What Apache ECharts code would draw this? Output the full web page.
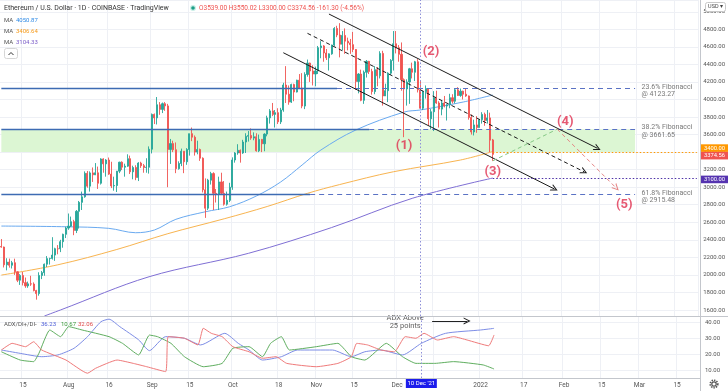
<!DOCTYPE html>
<html>
<head>
<meta charset="utf-8">
<title>Ethereum / U.S. Dollar</title>
<script src="https://cdn.jsdelivr.net/npm/echarts@6.0.0/dist/echarts.min.js"></script>
<style>
html,body{margin:0;padding:0;background:#ffffff;}
#chart{width:728px;height:391px;}
</style>
</head>
<body>
<div id="chart"></div>
<script>
// ================= DATA =================
// daily candles [open, high, low, close], one row per day starting 2021-07-07
const ohlcJul = [
[2324,2409,2310,2318],[2318,2323,2085,2115],[2115,2190,2052,2146],[2146,2186,2083,2110],
[2110,2160,2073,2139],[2139,2185,2000,2036],[2036,2042,1918,1940],[1940,2009,1886,1994],
[1994,2033,1880,1912],[1912,1970,1853,1875],[1875,1924,1853,1898],[1898,1990,1875,1896],
[1896,1915,1812,1822],[1822,1830,1718,1787],[1787,2030,1763,1994],[1994,2045,1952,2026],
[2026,2130,1990,2122],[2122,2215,2090,2186],[2186,2195,2118,2188],[2188,2430,2175,2226],
[2226,2310,2160,2299],[2299,2340,2235,2297],[2297,2400,2260,2379],[2379,2470,2310,2463],
[2463,2550,2420,2534]
];
const ohlcAug = [
[2534,2700,2514,2556],[2556,2665,2545,2607],[2607,2628,2453,2507],[2507,2740,2477,2725],
[2725,2843,2528,2827],[2827,2950,2740,2890],[2890,3180,2880,3158],[3158,3185,2994,3012],
[3012,3180,2950,3163],[3163,3225,3060,3141],[3141,3275,3138,3164],[3164,3235,2980,3045],
[3045,3330,3030,3322],[3322,3330,3165,3266],[3266,3320,3120,3310],[3310,3338,3140,3149],
[3149,3290,2990,3014],[3014,3120,2960,3019],[3019,3185,2945,3183],[3183,3290,3160,3285],
[3285,3295,3195,3228],[3228,3268,3120,3240],[3240,3375,3232,3325],[3325,3360,3150,3175],
[3175,3245,3090,3224],[3224,3250,3080,3110],[3110,3285,3070,3275],[3275,3290,3220,3245],
[3245,3265,3165,3224],[3224,3330,3165,3227],[3227,3465,3155,3433]
];
const ohlcSep = [
[3433,3840,3385,3830],[3830,3840,3720,3790],[3790,4028,3715,3940],[3940,3970,3825,3887],
[3887,3965,3845,3952],[3952,3970,3870,3927],[3927,3950,3000,3430],[3430,3550,3265,3497],
[3497,3530,3400,3427],[3427,3510,3160,3211],[3211,3295,3200,3270],[3270,3440,3240,3410],
[3410,3410,3160,3290],[3290,3445,3255,3430],[3430,3610,3360,3610],[3610,3680,3525,3570],
[3570,3590,3360,3400],[3400,3530,3375,3430],[3430,3440,3300,3330],[3330,3340,2940,2970],
[2970,3100,2650,2760],[2760,3095,2740,3080],[3080,3175,3030,3155],[3155,3170,2740,2930],
[2930,2980,2825,2923],[2923,3120,2740,3060],[3060,3165,2920,2930],[2930,3070,2790,2806],
[2806,2950,2790,2850],[2850,3050,2830,3000]
];
const ohlcOct = [
[3000,3340,2970,3310],[3310,3400,3280,3390],[3390,3490,3370,3420],[3420,3430,3280,3390],
[3390,3540,3380,3515],[3515,3615,3390,3580],[3580,3640,3520,3590],[3590,3670,3540,3560],
[3560,3625,3535,3575],[3575,3615,3405,3415],[3415,3600,3400,3545],[3545,3550,3400,3495],
[3495,3615,3410,3605],[3605,3815,3580,3790],[3790,3890,3725,3870],[3870,3960,3810,3830],
[3830,3880,3680,3850],[3850,3900,3720,3745],[3745,3905,3720,3880],[3880,4190,3860,4165],
[4165,4380,3960,4060],[4060,4160,3940,3970],[3970,4180,3960,4170],[4170,4180,3980,4085],
[4085,4225,4080,4220],[4220,4290,4120,4130],[4130,4300,3900,3925],[3925,4310,3890,4285],
[4285,4455,4260,4415],[4415,4420,4200,4325],[4325,4390,4160,4290]
];
const ohlcNov = [
[4290,4375,4150,4325],[4325,4610,4290,4590],[4590,4665,4470,4610],[4610,4620,4430,4530],
[4530,4575,4450,4475],[4475,4525,4330,4520],[4520,4625,4510,4620],[4620,4825,4610,4810],
[4810,4840,4710,4735],[4735,4870,4480,4630],[4630,4780,4560,4730],[4730,4810,4520,4665],
[4665,4705,4560,4645],[4645,4690,4520,4625],[4625,4770,4540,4570],[4570,4575,4110,4205],
[4205,4300,4070,4290],[4290,4340,3980,3990],[3990,4330,3950,4310],[4310,4450,4250,4435],
[4435,4440,4290,4320],[4320,4350,4055,4090],[4090,4380,4060,4340],[4340,4370,4150,4270],
[4270,4550,4240,4525],[4525,4555,3930,4040],[4040,4180,4040,4100],[4100,4310,3970,4300],
[4300,4460,4280,4445],[4445,4780,4330,4635]
];
const ohlcDec = [
[4635,4780,4525,4590],[4590,4620,4430,4515],[4515,4650,4100,4225],[4225,4240,3570,4120],
[4120,4230,3930,4200],[4200,4360,3950,4350],[4350,4420,4240,4310],[4310,4440,4210,4430],
[4430,4460,4080,4110],[4110,4220,3890,3900],[3900,4100,3880,4090],[4090,4160,4010,4125],
[4125,4130,3700,3780],[3780,3890,3660,3860],[3860,4095,3640,4020],[4020,4100,3950,3960],
[3960,3980,3680,3890],[3890,3990,3820,3960],[3960,4040,3910,3925],[3925,3945,3760,3940],
[3940,4065,3900,4020],[4020,4060,3955,3980],[3980,4130,3955,4110],[4110,4140,4040,4045],
[4045,4125,4030,4095],[4095,4100,4000,4060],[4060,4125,4030,4040],[4040,4045,3770,3795],
[3795,3830,3600,3630],[3630,3770,3590,3710],[3710,3810,3620,3680]
];
const ohlcJan = [
[3680,3770,3680,3770],[3770,3855,3725,3830],[3830,3850,3700,3760],[3760,3880,3725,3790],
[3790,3850,3400,3535.86],[3539.00,3550.02,3300.00,3374.56]
];

// moving averages [date, value]
const maBlue = [
['2021-07-07',2557],['2021-07-31',2549],['2021-08-16',2531],['2021-08-26',2481],['2021-09-02',2512],
['2021-09-10',2634],['2021-09-21',2720],['2021-09-30',2777],['2021-10-10',2900],['2021-10-19',3059],
['2021-10-27',3253],['2021-11-03',3424],['2021-11-16',3652],['2021-12-04',3857],['2021-12-10',3880],
['2021-12-26',3971],['2022-01-06',4050.87]
];
const maOrange = [
['2021-07-07',1998],['2021-07-28',2115],['2021-08-19',2290],['2021-09-07',2470],['2021-09-28',2640],
['2021-10-14',2780],['2021-10-29',2930],['2021-11-10',3030],['2021-11-30',3176],['2021-12-25',3310],
['2022-01-06',3406.64]
];
const maPurple = [
['2021-07-23',1531],['2021-07-29',1600],['2021-08-31',1979],['2021-10-07',2246],['2021-11-07',2540],
['2021-12-07',2873],['2022-01-06',3104.33]
];

// ADX / DI+ / DI-
const adxLine = [
['2021-07-07',22.6],['2021-07-14',20.5],['2021-07-22',18.4],['2021-07-28',19.5],['2021-08-03',23.7],
['2021-08-08',31.0],['2021-08-13',40.4],['2021-08-16',42.0],['2021-08-20',37.3],['2021-08-27',29.0],
['2021-08-31',22.2],['2021-09-06',31.0],['2021-09-13',30.0],['2021-09-19',25.8],['2021-09-28',33.1],
['2021-10-03',26.8],['2021-10-07',22.6],['2021-10-12',16.3],['2021-10-19',18.4],['2021-10-25',22.6],
['2021-11-07',22.6],['2021-11-14',18.4],['2021-11-19',21.5],['2021-11-25',22.6],['2021-12-03',19.5],
['2021-12-10',26.8],['2021-12-19',33.1],['2022-01-01',35.2],['2022-01-06',36.23]
];
const diPlus = [
['2021-07-07',21.5],['2021-07-14',16.3],['2021-07-19',15.3],['2021-07-21',20.7],['2021-07-25',35.2],
['2021-07-29',31.0],['2021-08-01',37.3],['2021-08-06',35.2],['2021-08-16',31.0],['2021-08-21',26.8],
['2021-08-27',19.5],['2021-08-31',32.0],['2021-09-03',31.0],['2021-09-08',26.8],['2021-09-13',18.4],
['2021-09-20',12.1],['2021-09-27',14.2],['2021-10-01',23.7],['2021-10-07',24.7],['2021-10-12',18.4],
['2021-10-15',26.8],['2021-10-19',31.0],['2021-10-22',22.6],['2021-11-01',24.7],['2021-11-09',26.8],
['2021-11-14',18.4],['2021-11-19',16.3],['2021-11-27',26.8],['2021-12-03',18.4],['2021-12-08',14.2],
['2021-12-15',14.2],['2021-12-22',15.3],['2022-01-02',13.2],['2022-01-06',10.67]
];
const diMinus = [
['2021-07-07',22.6],['2021-07-11',26.8],['2021-07-16',24.7],['2021-07-19',27.8],['2021-07-22',22.6],
['2021-07-31',16.3],['2021-08-08',8.0],['2021-08-11',11.1],['2021-08-19',16.3],['2021-08-25',14.2],
['2021-08-30',12.1],['2021-09-06',9.0],['2021-09-07',31.0],['2021-09-13',30.0],['2021-09-18',25.8],
['2021-09-20',36.3],['2021-09-23',33.1],['2021-09-27',31.0],['2021-10-01',24.7],['2021-10-07',21.5],
['2021-10-12',17.4],['2021-10-17',18.4],['2021-10-21',14.2],['2021-11-01',12.1],['2021-11-09',14.2],
['2021-11-14',18.4],['2021-11-16',26.8],['2021-11-20',25.8],['2021-11-25',22.6],['2021-11-30',21.5],
['2021-12-04',31.0],['2021-12-08',30.0],['2021-12-11',33.1],['2021-12-16',28.9],['2021-12-22',31.0],
['2021-12-27',28.9],['2022-01-04',25.3],['2022-01-06',32.06]
];

// drawings
const fibNames = ['23.6%','38.2%','61.8%'];
const fibLevels = [4123.27, 3661.65, 2915.48];
const fibSolidEnd = ['2021-11-09','2021-11-21','2021-10-30'];
const fibEnd = '2022-02-28';
const zoneLow = 3400, zoneHigh = 3661.65;
const channelUpper = [['2021-11-06',4974],['2022-02-14',3443]];
const channelLower = [['2021-10-20',4533],['2022-01-29',2979]];
const channelMid = [['2021-10-29',4754],['2022-02-09',3176]];
const projUp = [['2022-01-06',3300],['2022-01-30',3661.65]];
const projDown = [['2022-01-30',3661.65],['2022-02-21',2990]];
const keyLevels = [3400, 3100];
const waveNames = ['(1)','(2)','(3)','(4)','(5)'];
const waveDates = ['2021-12-04','2021-12-14','2022-01-06','2022-02-02','2022-02-24'];
const wavePrices = [3469, 4541, 3173, 3743, 2797];
const crossDate = '2021-12-10';
const adxNoteDate = '2021-12-04', adxNoteValue = 40;
const adxArrow = [['2021-12-14',40.9],['2021-12-27',40.9]];

// time axis tick labels
const tickDates = ['2021-07-15','2021-08-01','2021-08-16','2021-09-01','2021-09-15','2021-10-01','2021-10-18',
  '2021-11-01','2021-11-15','2021-12-01','2021-12-15','2022-01-01','2022-01-17','2022-02-01','2022-02-15','2022-03-01','2022-03-15'];
const tickLabels = ['15','Aug','16','Sep','15','Oct','18','Nov','15','Dec','','2022','17','Feb','15','Mar','15'];

// ================= BUILD =================
const FONT = 'Roboto, "Liberation Sans", sans-serif';
const cats = [];
(function () {
  const t0 = Date.UTC(2021, 6, 7);
  for (let i = 0; i < 260; i++) cats.push(new Date(t0 + i * 86400000).toISOString().slice(0, 10));
})();
const ohlc = [].concat(ohlcJul, ohlcAug, ohlcSep, ohlcOct, ohlcNov, ohlcDec, ohlcJan);
const candles = ohlc.map(r => [r[0], r[3], r[2], r[1]]);
const last = ohlc[ohlc.length - 1], prevClose = ohlc[ohlc.length - 2][3];
const chg = last[3] - prevClose, pct = chg / prevClose * 100;

const tickMap = {};
tickDates.forEach((d, i) => tickMap[d] = tickLabels[i]);
const isTick = (idx, val) => Object.prototype.hasOwnProperty.call(tickMap, val);

const ARROW = 'path://M0,10 L5,0 L10,10 L8.4,10 L5,3.2 L1.6,10 Z';
function seg(a, b, style, arrow) {
  const end = {coord: b};
  if (arrow) { end.symbol = ARROW; end.symbolSize = 7; }
  return [{coord: a, lineStyle: style}, end];
}

const markLines = [];
fibLevels.forEach((lv, k) => {
  markLines.push(seg([cats[0], lv], [fibSolidEnd[k], lv], {type: 'solid', color: '#3d6bb3', width: 1.4}));
  markLines.push(seg([fibSolidEnd[k], lv], [fibEnd, lv], {type: [5, 4], color: '#5a72c4', width: 1}));
});
const blackSolid = {type: 'solid', color: '#1c1c1c', width: 1};
markLines.push(seg(channelUpper[0], channelUpper[1], blackSolid, true));
markLines.push(seg(channelLower[0], channelLower[1], blackSolid, true));
markLines.push(seg(channelMid[0], channelMid[1], {type: [4, 3], color: '#1c1c1c', width: 1}, true));
markLines.push(seg(projUp[0], projUp[1], {type: [4, 3], color: '#86c986', width: 1}));
markLines.push(seg(projDown[0], projDown[1], {type: [4, 3], color: '#e58585', width: 1}, true));
markLines.push(seg([cats[ohlc.length - 1], keyLevels[0]], [cats[cats.length - 1], keyLevels[0]], {type: [1.5, 2], color: '#ff9800', width: 1}));
markLines.push(seg([cats[ohlc.length - 1], keyLevels[1]], [cats[cats.length - 1], keyLevels[1]], {type: [1.5, 2], color: '#4b2fa6', width: 1.2}));
markLines.push({xAxis: crossDate, lineStyle: {type: [1.5, 2], color: '#8e90d8', width: 1}});

const chart = echarts.init(document.getElementById('chart'), null, {renderer: 'canvas'});

const splitLineColor = '#eef0f5';
const option = {
  animation: false,
  backgroundColor: '#ffffff',
  textStyle: {fontFamily: FONT},
  grid: [
    {left: 0, right: 28, top: 0, height: 316},
    {left: 0, right: 28, top: 316, height: 62}
  ],
  xAxis: [
    {type: 'category', gridIndex: 0, data: cats, boundaryGap: true,
      axisLine: {show: false}, axisTick: {show: false}, axisLabel: {show: false},
      splitLine: {show: true, interval: isTick, lineStyle: {color: splitLineColor, width: 1}}},
    {type: 'category', gridIndex: 1, data: cats, boundaryGap: true,
      axisLine: {show: false}, axisTick: {show: false},
      axisLabel: {show: true, interval: isTick, formatter: v => tickMap[v] || '', fontSize: 6.5, color: '#555', margin: 4},
      splitLine: {show: true, interval: isTick, lineStyle: {color: splitLineColor, width: 1}}}
  ],
  yAxis: [
    {type: 'value', gridIndex: 0, position: 'right', min: 1531.6, max: 5134, splitNumber: 18, scale: true,
      axisLine: {show: false}, axisTick: {show: false},
      axisLabel: {fontSize: 6, color: '#555', margin: 5, formatter: v => (Math.abs(v % 200) < 0.01 ? v.toFixed(2) : '')},
      splitLine: {show: true, lineStyle: {color: splitLineColor, width: 1}}},
    {type: 'value', gridIndex: 1, position: 'right', min: 5, max: 44, splitNumber: 4,
      axisLine: {show: false}, axisTick: {show: false},
      axisLabel: {fontSize: 6, color: '#555', margin: 5, formatter: v => (Math.abs(v % 10) < 0.01 ? v.toFixed(2) : '')},
      splitLine: {show: true, lineStyle: {color: splitLineColor, width: 1}}}
  ],
  series: [
    {type: 'line', xAxisIndex: 0, yAxisIndex: 0, data: [], z: 1, silent: true,
      markArea: {silent: true, itemStyle: {color: '#dcf6d3'},
        data: [[{coord: [cats[0], zoneLow]}, {coord: [fibEnd, zoneHigh]}]]}},
    {type: 'line', name: 'MA100', xAxisIndex: 0, yAxisIndex: 0, data: maBlue, smooth: 0.35, symbol: 'none',
      lineStyle: {color: '#6aaaf0', width: 1}, z: 3, silent: true},
    {type: 'line', name: 'MA200', xAxisIndex: 0, yAxisIndex: 0, data: maOrange, smooth: 0.35, symbol: 'none',
      lineStyle: {color: '#f8b450', width: 1}, z: 3, silent: true},
    {type: 'line', name: 'MA300', xAxisIndex: 0, yAxisIndex: 0, data: maPurple, smooth: 0.35, symbol: 'none',
      lineStyle: {color: '#7f6fd4', width: 1}, z: 3, silent: true},
    {type: 'candlestick', xAxisIndex: 0, yAxisIndex: 0, data: candles, barWidth: 1.6, z: 4,
      itemStyle: {color: '#26a69a', color0: '#ef5350', borderColor: '#26a69a', borderColor0: '#ef5350', borderWidth: 0.9}},
    {type: 'line', xAxisIndex: 0, yAxisIndex: 0, data: [], z: 5, silent: true,
      markLine: {silent: true, symbol: ['none', 'none'], symbolSize: 7, label: {show: false}, animation: false,
        data: markLines}},
    {type: 'scatter', xAxisIndex: 0, yAxisIndex: 0, z: 6, silent: true, symbolSize: 1,
      itemStyle: {color: 'rgba(0,0,0,0)'},
      data: waveNames.map((n, i) => ({value: [waveDates[i], wavePrices[i]], name: n})),
      label: {show: true, position: 'inside', formatter: p => p.name, color: '#e0304f', fontSize: 13, fontWeight: 'bold', fontFamily: FONT}},
    {type: 'scatter', xAxisIndex: 0, yAxisIndex: 0, z: 6, silent: true, symbolSize: 1,
      itemStyle: {color: 'rgba(0,0,0,0)'},
      data: fibLevels.map((lv, i) => ({value: [fibEnd, lv], name: fibNames[i] + ' Fibonacci\n@ ' + lv.toFixed(2)})),
      label: {show: true, position: 'right', distance: 6, offset: [0, 2], formatter: p => p.name, color: '#555',
        fontSize: 7, lineHeight: 7.5, align: 'left', fontFamily: FONT}},
    // ADX pane
    {type: 'line', name: 'ADX', xAxisIndex: 1, yAxisIndex: 1, data: adxLine, smooth: 0.2, symbol: 'none',
      lineStyle: {color: '#7d8de6', width: 1}, z: 3, silent: true,
      markLine: {silent: true, symbol: ['none', 'none'], label: {show: false},
        data: [{xAxis: crossDate, lineStyle: {type: [1.5, 2], color: '#8e90d8', width: 1}},
          [{coord: adxArrow[0], lineStyle: {type: 'solid', color: '#222', width: 1}}, {coord: adxArrow[1], symbol: ARROW, symbolSize: 7}]]}},
    {type: 'line', name: 'DI+', xAxisIndex: 1, yAxisIndex: 1, data: diPlus, smooth: 0.15, symbol: 'none',
      lineStyle: {color: '#5fae5f', width: 1}, z: 3, silent: true},
    {type: 'line', name: 'DI-', xAxisIndex: 1, yAxisIndex: 1, data: diMinus, smooth: 0.15, symbol: 'none',
      lineStyle: {color: '#ef7a7a', width: 1}, z: 3, silent: true},
    {type: 'scatter', xAxisIndex: 1, yAxisIndex: 1, z: 6, silent: true, symbolSize: 1,
      itemStyle: {color: 'rgba(0,0,0,0)'},
      data: [{value: [adxNoteDate, adxNoteValue], name: 'ADX Above\n25 points'}],
      label: {show: true, position: 'inside', formatter: p => p.name, color: '#333', fontSize: 7.5, lineHeight: 8.5, fontFamily: FONT}}
  ]
};
chart.setOption(option);

// ================= OVERLAY TEXT / UI =================
function txt(x, y, text, size, color, extra) {
  return {type: 'text', x: x, y: y, silent: true, z: 100,
    style: Object.assign({text: text, fontSize: size, fontFamily: FONT, fill: color, align: 'left', verticalAlign: 'middle'}, extra || {})};
}
const G = [];
G.push(txt(4, 8, 'Ethereum / U.S. Dollar · 1D · COINBASE · TradingView', 7, '#333'));
G.push({type: 'circle', shape: {cx: 193, cy: 8, r: 3}, style: {fill: '#c8eee6'}, silent: true, z: 100});
G.push({type: 'circle', shape: {cx: 193, cy: 8, r: 1.8}, style: {fill: '#1e9e87'}, silent: true, z: 101});
G.push(txt(199, 8, 'O' + last[0].toFixed(2) + ' H' + last[1].toFixed(2) + ' L' + last[2].toFixed(2) + ' C' + last[3].toFixed(2) +
  ' ' + chg.toFixed(2) + ' (' + pct.toFixed(2) + '%)', 6.5, '#ef5350'));
const maVals = [maBlue, maOrange, maPurple].map(a => a[a.length - 1][1]);
const maCols = ['#2e8ae6', '#f59a1a', '#7a5cc8'];
maVals.forEach((v, i) => {
  G.push(txt(4, 20 + i * 11, 'MA', 6, '#555'));
  G.push(txt(16, 20 + i * 11, v.toFixed(2), 6, maCols[i]));
});
G.push({type: 'rect', shape: {x: 4.5, y: 48.5, width: 13, height: 10, r: 2}, style: {fill: '#fff', stroke: '#d6d6d6', lineWidth: 1}, silent: true, z: 100});
G.push({type: 'polyline', shape: {points: [[8.5, 55], [11, 52.5], [13.5, 55]]}, style: {stroke: '#333', lineWidth: 1, fill: null}, silent: true, z: 101});
// ADX legend
const adxVals = [adxLine, diPlus, diMinus].map(a => a[a.length - 1][1]);
G.push(txt(4, 324, 'ADX/DI+/DI-', 6, '#555'));
const adxCols = ['#4a5bd6', '#3a9a3a', '#e04848'];
const adxX = [41, 61, 78];
adxVals.forEach((v, i) => G.push(txt(adxX[i], 324, v.toFixed(2), 6, adxCols[i])));
// separators
G.push({type: 'line', shape: {x1: 0, y1: 316.5, x2: 728, y2: 316.5}, style: {stroke: '#c3c6cc', lineWidth: 1}, silent: true, z: 90});
G.push({type: 'line', shape: {x1: 0, y1: 378.5, x2: 700, y2: 378.5}, style: {stroke: '#c3c6cc', lineWidth: 1}, silent: true, z: 90});
G.push({type: 'line', shape: {x1: 700.5, y1: 0, x2: 700.5, y2: 391}, style: {stroke: '#c3c6cc', lineWidth: 1}, silent: true, z: 90});
// USD box
G.push({type: 'rect', shape: {x: 705.5, y: 2.5, width: 20, height: 9, r: 2}, style: {fill: '#fff', stroke: '#c8c8c8', lineWidth: 1}, silent: true, z: 100});
G.push(txt(715.5, 7, 'USD ▾', 5.5, '#444', {align: 'center'}));
// gear
G.push({type: 'circle', shape: {cx: 714, cy: 384, r: 2.2}, style: {fill: 'none', stroke: '#555', lineWidth: 1.2}, silent: true, z: 100});
G.push({type: 'circle', shape: {cx: 714, cy: 384, r: 3.8}, style: {fill: 'none', stroke: '#555', lineWidth: 1.6, lineDash: [1.4, 1.1]}, silent: true, z: 100});

// axis value boxes (positions from the library's scales)
const yPix = v => chart.convertToPixel({yAxisIndex: 0}, v);
const boxes = [
  {v: keyLevels[0], t: keyLevels[0].toFixed(2), c: '#ff9800', dy: -4},
  {v: last[3], t: last[3].toFixed(2), c: '#ef5350', dy: 1.3},
  {v: keyLevels[1], t: keyLevels[1].toFixed(2), c: '#5533b0', dy: 1}
];
boxes.forEach(b => {
  const y = yPix(b.v) + b.dy;
  G.push({type: 'rect', shape: {x: 701, y: y - 3.8, width: 27, height: 7.6}, style: {fill: b.c}, silent: true, z: 110});
  const t = txt(714.5, y, b.t, 5.8, '#fff', {align: 'center'});
  t.z = 111;
  G.push(t);
});
// crosshair date box
const cx = chart.convertToPixel({xAxisIndex: 1}, crossDate);
G.push({type: 'rect', shape: {x: cx - 15.5, y: 379, width: 31, height: 9}, style: {fill: '#1c1cec'}, silent: true, z: 110});
const dt = txt(cx, 383.5, "10 Dec '21", 6, '#fff', {align: 'center'});
dt.z = 111;
G.push(dt);

chart.setOption({graphic: {elements: G}});
</script>
</body>
</html>
